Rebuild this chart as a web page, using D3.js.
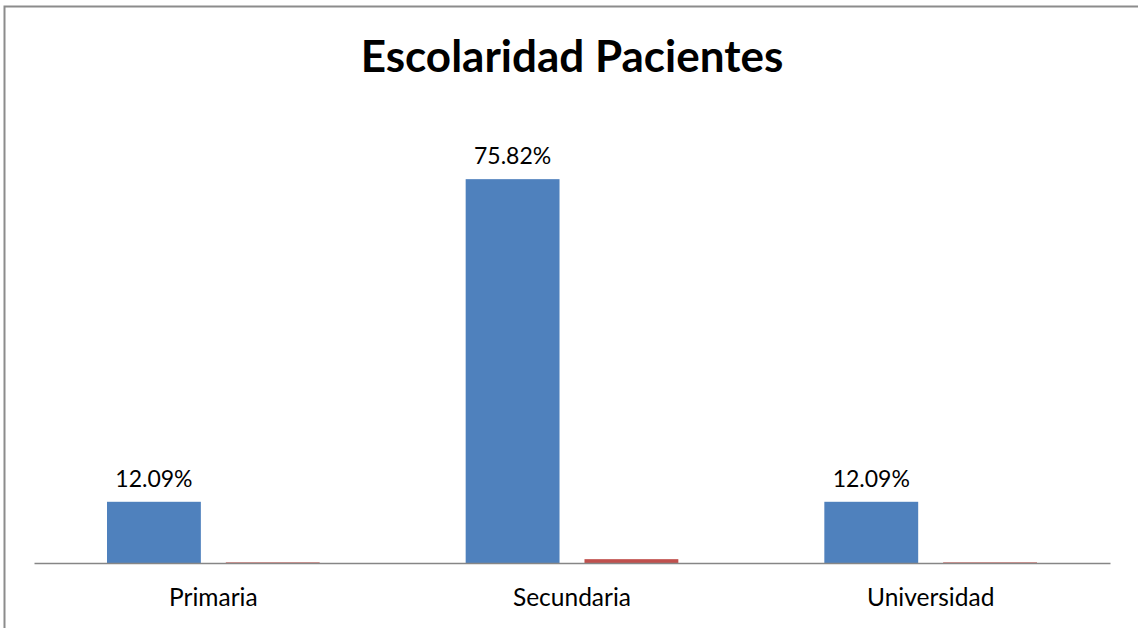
<!DOCTYPE html>
<html>
  <head>
    <script src="https://d3js.org/d3.v7.min.js"></script>
    <title>Escolaridad Pacientes</title>
    <style>
      html, body { margin: 0; padding: 0; background: #fff; overflow: hidden; }
      svg { display: block; }
      text { font-family: Lato, "Open Sans", sans-serif; fill: #000; }
    </style>
  </head>
  <body>
  <svg width="1138" height="628"></svg>
  <script>
      // data
      var categories = ['Primaria', 'Secundaria', 'Universidad'];
      var porcentaje = [12.09, 75.82, 12.09];
      var fraccion = [0.1209, 0.7582, 0.1209];
      var etiquetas = ['12.09%', '75.82%', '12.09%'];
      var titulo = 'Escolaridad Pacientes';

      var svg = d3.select('svg');
      var w = 1138;
      var h = 628;
      var margin = { left: 34, right: 28, top: 158, bottom: 65 };
      var innerWidth = w - margin.left - margin.right;
      var innerHeight = h - margin.top - margin.bottom;

      var data = categories.map((c, i) => ({
        cat: c, azul: porcentaje[i], rojo: fraccion[i], label: etiquetas[i]
      }));

      // chart border, only top and left edges are in frame
      svg.append('path')
        .attr('d', `M4.5,${h} V6.5 H${w}`)
        .attr('fill', 'none')
        .attr('stroke', '#8c8c8c')
        .attr('stroke-width', 2);

      var x0 = d3.scaleBand()
        .domain(categories)
        .range([margin.left, margin.left + innerWidth])
        .padding(0);

      var x1 = d3.scaleBand()
        .domain(['azul', 'rojo'])
        .range([73, x0.bandwidth() - 73])
        .paddingInner(0.21);

      var yScale = d3.scaleLinear()
        .domain([0, 80])
        .range([margin.top + innerHeight, margin.top]);

      var colors = { azul: '#4f81bd', rojo: '#c0504d' };

      var bars = [];
      data.forEach(d => {
        bars.push({ cat: d.cat, key: 'azul', value: d.azul });
        bars.push({ cat: d.cat, key: 'rojo', value: d.rojo });
      });

      svg.append('g')
        .selectAll('rect')
        .data(bars)
        .enter().append('rect')
        .attr('x', d => x0(d.cat) + x1(d.key))
        .attr('y', d => yScale(d.value))
        .attr('width', x1.bandwidth())
        .attr('height', d => yScale(0) - yScale(d.value))
        .attr('fill', d => colors[d.key]);

      svg.append('g')
        .selectAll('text')
        .data(data)
        .enter().append('text')
        .attr('x', d => x0(d.cat) + x1('azul') + x1.bandwidth() / 2)
        .attr('y', d => yScale(d.azul) - 15)
        .style('text-anchor', 'middle')
        .style('font-size', '23px')
        .text(d => d.label);

      // x axis
      var xAxis = d3.axisBottom(x0).tickSize(0).tickPadding(26);
      var ax = svg.append('g')
        .attr('transform', `translate(0, ${yScale(0)})`)
        .call(xAxis);
      ax.select('.domain').attr('stroke', '#868686').attr('stroke-width', 1.5);
      ax.selectAll('text')
        .style('font-family', 'Lato, "Open Sans", sans-serif')
        .style('font-size', '24.5px')
        .attr('fill', '#000');

      svg.append('text')
        .attr('x', margin.left + innerWidth / 2)
        .attr('y', 72)
        .style('text-anchor', 'middle')
        .style('font-weight', 'bold')
        .style('font-size', '44px')
        .text(titulo);
  </script>
  </body>
</html>
